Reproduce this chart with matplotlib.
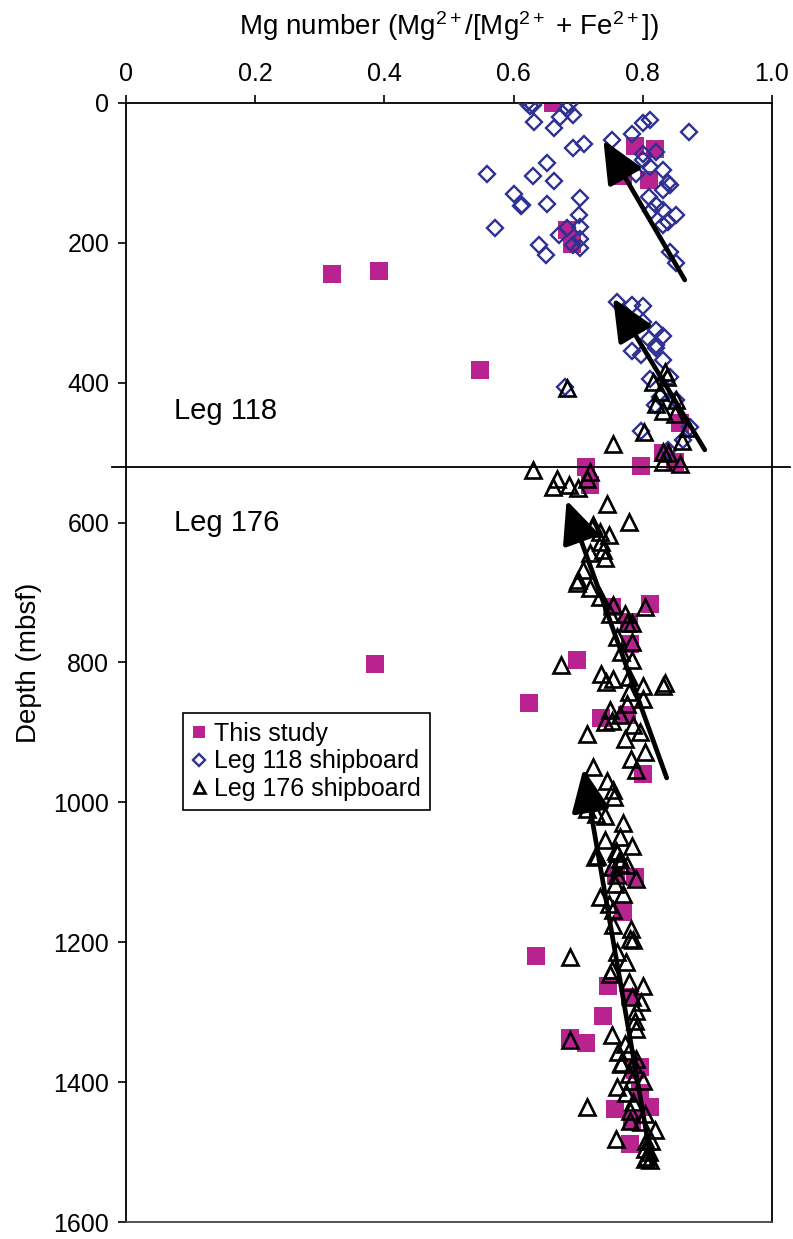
import matplotlib
matplotlib.use("Agg")
import matplotlib.pyplot as plt
import matplotlib.transforms as mtransforms

plt.rcParams['font.family'] = ['Liberation Sans', 'DejaVu Sans']
plt.rcParams['mathtext.fontset'] = 'custom'
plt.rcParams['mathtext.rm'] = 'Liberation Sans'
plt.rcParams['mathtext.it'] = 'Liberation Sans'

# ---------------- data ----------------
study_mg = [0.661, 0.788, 0.819, 0.770, 0.809, 0.682, 0.690, 0.319, 0.392, 0.548,
            0.858, 0.831, 0.850, 0.712, 0.798, 0.718, 0.752, 0.811, 0.778, 0.780,
            0.698, 0.385, 0.624, 0.736, 0.775, 0.801, 0.788, 0.759, 0.770, 0.635,
            0.746, 0.780, 0.739, 0.687, 0.712, 0.796, 0.788, 0.796, 0.757, 0.811,
            0.783, 0.780]
study_depth = [0, 62, 66, 104, 110, 182, 201, 245, 240, 382,
               458, 501, 513, 520, 519, 546, 720, 717, 742, 773,
               797, 802, 858, 880, 875, 960, 1107, 1104, 1157, 1219,
               1263, 1278, 1305, 1337, 1344, 1379, 1383, 1416, 1438, 1436,
               1455, 1488]

leg118_mg = [0.620, 0.630, 0.682, 0.692, 0.672, 0.631, 0.662, 0.692, 0.709, 0.752,
             0.783, 0.800, 0.811, 0.872, 0.820, 0.800, 0.800, 0.811, 0.832, 0.790,
             0.839, 0.842, 0.832, 0.809, 0.821, 0.813, 0.832, 0.851, 0.839, 0.832,
             0.842, 0.852, 0.651, 0.630, 0.662, 0.703, 0.651, 0.613, 0.702, 0.703,
             0.671, 0.682, 0.703, 0.703, 0.692, 0.640, 0.650, 0.559, 0.601, 0.611,
             0.571, 0.625, 0.686,
             0.760, 0.783, 0.800, 0.800, 0.820, 0.831, 0.810, 0.820, 0.821, 0.783,
             0.798, 0.831, 0.842, 0.811, 0.680, 0.827, 0.819, 0.852, 0.837, 0.798,
             0.873, 0.863, 0.839]
leg118_depth = [0, 3, 8, 17, 20, 27, 36, 65, 58, 53,
                44, 29, 25, 42, 70, 73, 81, 92, 96, 101,
                115, 117, 124, 134, 146, 155, 153, 160, 170, 175,
                213, 229, 86, 105, 112, 136, 144, 146, 160, 177,
                189, 179, 194, 208, 203, 203, 217, 102, 130, 147,
                179, 5, 2,
                284, 289, 290, 313, 324, 333, 337, 346, 351, 354,
                360, 367, 392, 395, 406, 420, 432, 425, 427, 469,
                463, 482, 496]

leg176_mg = [0.682, 0.834, 0.837, 0.816, 0.827, 0.852, 0.821, 0.832, 0.850, 0.802,
             0.870, 0.860, 0.754, 0.832, 0.839, 0.832, 0.858, 0.630, 0.719, 0.713,
             0.667, 0.661, 0.685, 0.700, 0.744, 0.778, 0.723,
             0.721, 0.734, 0.748, 0.736, 0.738, 0.718, 0.741, 0.708, 0.700, 0.698,
             0.719, 0.733, 0.754, 0.749, 0.772, 0.803, 0.775, 0.784, 0.760, 0.784,
             0.674, 0.736, 0.754, 0.743, 0.778, 0.783, 0.767, 0.800, 0.832, 0.834,
             0.778, 0.800, 0.775, 0.749, 0.765, 0.741, 0.753, 0.785, 0.796, 0.713,
             0.772, 0.803, 0.782, 0.789, 0.723, 0.744, 0.754, 0.755, 0.713, 0.713,
             0.741, 0.728, 0.769, 0.765, 0.783, 0.741, 0.758, 0.729, 0.765,
             0.726, 0.760, 0.765, 0.775, 0.752, 0.760, 0.789, 0.757, 0.770, 0.733,
             0.748, 0.754, 0.754, 0.782, 0.780, 0.785, 0.688, 0.760, 0.774, 0.753,
             0.750, 0.779, 0.800, 0.783, 0.797, 0.790, 0.788, 0.790, 0.752, 0.688,
             0.772, 0.762, 0.778, 0.767, 0.790,
             0.767, 0.785, 0.778, 0.800, 0.783, 0.760, 0.713, 0.774, 0.785, 0.780,
             0.803, 0.780, 0.798, 0.819, 0.758, 0.805, 0.812, 0.803, 0.809, 0.806,
             0.811, 0.803]
leg176_depth = [407, 384, 392, 399, 413, 425, 430, 441, 444, 470,
                465, 484, 487, 499, 500, 513, 516, 525, 527, 537,
                537, 549, 546, 551, 573, 599, 604,
                608, 613, 618, 628, 639, 644, 651, 668, 682, 687,
                694, 706, 718, 730, 730, 720, 744, 744, 763, 770,
                804, 816, 823, 828, 821, 797, 785, 833, 833, 830,
                842, 852, 859, 868, 875, 885, 883, 890, 899, 902,
                909, 928, 938, 954, 949, 969, 983, 992, 999, 1009,
                1019, 1016, 1030, 1050, 1062, 1054, 1069, 1076, 1081,
                1078, 1073, 1088, 1090, 1092, 1104, 1109, 1116, 1131, 1135,
                1145, 1154, 1176, 1181, 1195, 1197, 1221, 1214, 1228, 1240,
                1245, 1257, 1262, 1278, 1286, 1298, 1312, 1324, 1333, 1340,
                1345, 1357, 1355, 1372, 1367,
                1374, 1374, 1388, 1398, 1398, 1407, 1436, 1416, 1429, 1441,
                1445, 1455, 1457, 1468, 1481, 1484, 1484, 1495, 1500, 1507,
                1512, 1510]

# trend arrows: tail (mg, depth) -> head (mg, depth)
arrow_tail_mg = [0.865, 0.896, 0.837, 0.814]
arrow_tail_depth = [253, 496, 965, 1517]
arrow_head_mg = [0.739, 0.754, 0.682, 0.708]
arrow_head_depth = [53, 279, 568, 952]

boundary_depth = 520
x_ticks = [0, 0.2, 0.4, 0.6, 0.8, 1.0]
x_ticklabels = ['0', '0.2', '0.4', '0.6', '0.8', '1.0']
y_ticks = [0, 200, 400, 600, 800, 1000, 1200, 1400, 1600]

# ---------------- figure ----------------
fig = plt.figure(figsize=(7.93, 12.39), dpi=100)
ax = fig.add_axes([0.1589, 0.0137, 0.8146, 0.9032])

magenta = '#B8238F'
navy = '#2E3192'

ax.plot(leg118_mg, leg118_depth, linestyle='none', marker='D', markersize=8.5,
        markerfacecolor='none', markeredgecolor=navy, markeredgewidth=1.7,
        label='Leg 118 shipboard', zorder=3)
ax.plot(study_mg, study_depth, linestyle='none', marker='s', markersize=12.5,
        markerfacecolor=magenta, markeredgecolor=magenta, markeredgewidth=0,
        label='This study', zorder=2)
ax.plot(leg176_mg, leg176_depth, linestyle='none', marker='^', markersize=11,
        markerfacecolor='none', markeredgecolor='black', markeredgewidth=1.9,
        label='Leg 176 shipboard', zorder=4)

for xt, dt, xh, dh in zip(arrow_tail_mg, arrow_tail_depth, arrow_head_mg, arrow_head_depth):
    ax.annotate('', xy=(xh, dh), xytext=(xt, dt),
                arrowprops=dict(arrowstyle='-|>,head_length=1.0,head_width=0.45',
                                lw=3.4, color='black', mutation_scale=26,
                                shrinkA=0, shrinkB=0),
                zorder=6)

trans = mtransforms.blended_transform_factory(ax.transAxes, ax.transData)
ax.plot([-0.022, 1.028], [boundary_depth, boundary_depth], color='black', lw=1.3,
        transform=trans, clip_on=False, zorder=5)

ax.text(0.075, 440, 'Leg 118', fontsize=21, transform=trans, va='center', ha='left')
ax.text(0.075, 600, 'Leg 176', fontsize=21, transform=trans, va='center', ha='left')

ax.set_xlim(0, 1.0)
ax.set_ylim(1600, 0)
ax.xaxis.tick_top()
ax.xaxis.set_label_position('top')
ax.set_xticks(x_ticks)
ax.set_xticklabels(x_ticklabels)
ax.set_yticks(y_ticks)
ax.tick_params(axis='both', direction='out', length=6, width=1.2, labelsize=18, pad=6)
ax.set_xlabel(r'Mg number (Mg$^{2+}$/[Mg$^{2+}$ + Fe$^{2+}$])', fontsize=20, labelpad=20)
ax.set_ylabel('Depth (mbsf)', fontsize=20, labelpad=8)
for s in ax.spines.values():
    s.set_linewidth(1.3)
ax.spines['bottom'].set_color('#444444')

handles, labels = ax.get_legend_handles_labels()
order = [1, 0, 2]
leg = ax.legend([handles[i] for i in order], [labels[i] for i in order],
                loc='upper left', bbox_to_anchor=(0.088, 0.455), fontsize=18,
                frameon=True, fancybox=False, edgecolor='black', framealpha=1,
                handlelength=0.6, handletextpad=0.3, labelspacing=0.15,
                borderpad=0.35, markerscale=0.72, borderaxespad=0)
leg.get_frame().set_linewidth(1.2)

fig.savefig('out.png', dpi=100)
